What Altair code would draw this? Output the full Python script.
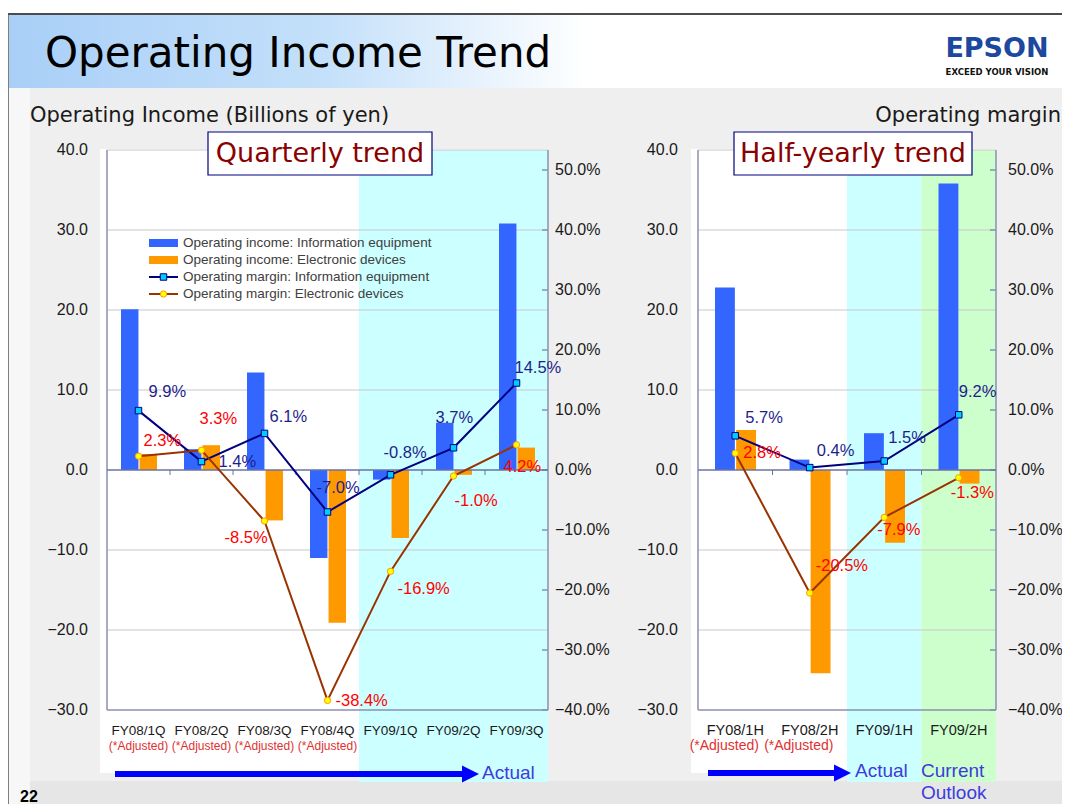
import altair as alt
import pandas as pd

# ---------------- data ----------------
quarters = ["FY08/1Q", "FY08/2Q", "FY08/3Q", "FY08/4Q", "FY09/1Q", "FY09/2Q", "FY09/3Q"]
q_income_info = [20.1, 2.6, 12.2, -11.0, -1.2, 5.9, 30.8]
q_income_elec = [2.0, 3.1, -6.3, -19.1, -8.5, -0.6, 2.8]
q_margin_info = [9.9, 1.4, 6.1, -7.0, -0.8, 3.7, 14.5]
q_margin_elec = [2.3, 3.3, -8.5, -38.4, -16.9, -1.0, 4.2]
q_adjusted = [True, True, True, True, False, False, False]
q_actual = ["FY09/1Q", "FY09/2Q", "FY09/3Q"]

halves = ["FY08/1H", "FY08/2H", "FY09/1H", "FY09/2H"]
h_income_info = [22.8, 1.3, 4.6, 35.8]
h_income_elec = [5.0, -25.4, -9.1, -1.7]
h_margin_info = [5.7, 0.4, 1.5, 9.2]
h_margin_elec = [2.8, -20.5, -7.9, -1.3]
h_adjusted = [True, True, False, False]
h_actual = ["FY09/1H"]
h_outlook = ["FY09/2H"]

income_ticks = [40, 30, 20, 10, 0, -10, -20, -30]
income_tick_labels = ["40.0", "30.0", "20.0", "10.0", "0.0", "\u221210.0", "\u221220.0", "\u221230.0"]
margin_ticks = [50, 40, 30, 20, 10, 0, -10, -20, -30, -40]
margin_tick_labels = ["50.0%", "40.0%", "30.0%", "20.0%", "10.0%", "0.0%",
                      "\u221210.0%", "\u221220.0%", "\u221230.0%", "\u221240.0%"]

series_names = ["Operating income: Information equipment",
                "Operating income: Electronic devices",
                "Operating margin: Information equipment",
                "Operating margin: Electronic devices"]

# label placement (pixel offsets from each point, style only)
q_info_offsets = [(10, -19), (17, 0), (5, -16), (-11, -24), (-7, -22), (-18, -30), (-2, -15)]
q_elec_offsets = [(5, -15), (-2, -31), (-40, 17), (8, 1), (7, 18), (1, 25), (-13, 22)]
h_info_offsets = [(10, -18), (7, -17), (4, -23), (0, -23)]
h_elec_offsets = [(8, 0), (6, -27), (-7, 13), (-8, 15)]

# ---------------- style ----------------
W, H = 1054, 796
SANS = "Liberation Sans, Arial, sans-serif"
DJ = "DejaVu Sans, Verdana, sans-serif"
NAVY = "#000080"
BROWN = "#993300"
BAR_BLUE = "#3366ff"
BAR_ORANGE = "#ff9900"
LBL_BLUE = "#1e1e8c"
LBL_RED = "#ff0000"
AXIS_C = "#8a90b0"
GRID_C = "#c8c8c8"
TXT_C = "#1a1a1a"
ACT_C = "#3c3cdc"
PLOT_TOP, PLOT_BOT, ZERO_Y = 142, 702, 462

one = pd.DataFrame({"k": [0]})


def deco_rect(x, x2, y, y2, **kw):
    return alt.Chart(one).mark_rect(**kw).encode(
        x=alt.value(x), x2=alt.value(x2), y=alt.value(y), y2=alt.value(y2))


def deco_rule(x, x2, y, y2, **kw):
    return alt.Chart(one).mark_rule(**kw).encode(
        x=alt.value(x), x2=alt.value(x2), y=alt.value(y), y2=alt.value(y2))


def deco_text(txt, x, y, **kw):
    return alt.Chart(one).mark_text(text=txt, **kw).encode(x=alt.value(x), y=alt.value(y))


def panel(cats, inc_i, inc_e, mar_i, mar_e, adj, x0, x1, off_range,
          info_offs, elec_offs, inc_lab_x, mar_lab_x, cat_font, adj_font, adj_dx, shades):
    n = len(cats)
    X = alt.Scale(type="band", domain=cats, range=[x0, x1], paddingInner=0, paddingOuter=0)
    YI = alt.Scale(domain=[-30, 40], range=[PLOT_BOT, PLOT_TOP], nice=False, zero=False)
    YM = alt.Scale(domain=[-40, 160 / 3], range=[PLOT_BOT, PLOT_TOP], nice=False, zero=False)
    xenc = alt.X("cat:N", scale=X, axis=None)

    df = pd.DataFrame({
        "cat": cats, "idx": list(range(n)),
        "mi": mar_i, "me": mar_e, "adj": adj,
        "li": [f"{v:.1f}%" for v in mar_i],
        "le": [f"{v:.1f}%" for v in mar_e],
    })
    bars = pd.DataFrame({
        "cat": cats * 2,
        "series": ["info"] * n + ["elec"] * n,
        "value": inc_i + inc_e,
    })
    inc_df = pd.DataFrame({"v": income_ticks, "lab": income_tick_labels})
    mar_df = pd.DataFrame({"v": margin_ticks, "lab": margin_tick_labels})

    L = []
    L.append(deco_rect(x0 - 7, x1, 141, 765, color="white"))
    for col, lst in shades:
        L.append(alt.Chart(pd.DataFrame({"cat": lst})).mark_rect(color=col).encode(
            x=xenc, y=alt.value(142), y2=alt.value(774)))
    # gridlines
    L.append(alt.Chart(inc_df).transform_filter("datum.v != 0 && datum.v != -30").mark_rule(
        color=GRID_C, strokeWidth=1).encode(
        y=alt.Y("v:Q", scale=YI, axis=None), x=alt.value(x0), x2=alt.value(x1)))
    # frame
    L.append(deco_rule(x0, x0, PLOT_TOP, PLOT_BOT, color=AXIS_C, strokeWidth=1.5))
    L.append(deco_rule(x1, x1, PLOT_TOP, PLOT_BOT, color=AXIS_C, strokeWidth=1.5))
    L.append(deco_rule(x0, x1, PLOT_BOT, PLOT_BOT, color=AXIS_C, strokeWidth=1.5))
    L.append(alt.Chart(mar_df).mark_rule(color=AXIS_C, strokeWidth=1.5).encode(
        y=alt.Y("v:Q", scale=YM, axis=None), x=alt.value(x1 - 6), x2=alt.value(x1)))
    # bars
    L.append(alt.Chart(bars).mark_bar().encode(
        x=xenc,
        xOffset=alt.XOffset("series:N", scale=alt.Scale(domain=["info", "elec"], range=off_range,
                                                           paddingInner=0.06, paddingOuter=0)),
        y=alt.Y("value:Q", scale=YI, axis=None),
        y2=alt.datum(0),
        color=alt.Color("series:N", scale=alt.Scale(domain=["info", "elec"],
                                                    range=[BAR_BLUE, BAR_ORANGE]), legend=None),
    ))
    # zero line with category-boundary ticks
    L.append(alt.Chart(pd.DataFrame({"v": [0]})).mark_rule(color="#6a72a4", strokeWidth=1.5).encode(
        y=alt.Y("v:Q", scale=YI, axis=None), x=alt.value(x0), x2=alt.value(x1)))
    L.append(alt.Chart(df).transform_filter("datum.idx > 0").mark_rule(
        color="#6a72a4", strokeWidth=1).encode(
        x=alt.X("cat:N", scale=X, axis=None, bandPosition=0),
        y=alt.value(ZERO_Y), y2=alt.value(ZERO_Y + 5)))
    # margin lines
    L.append(alt.Chart(df).mark_line(color=NAVY, strokeWidth=2).encode(
        x=xenc, y=alt.Y("mi:Q", scale=YM, axis=None), order="idx:Q"))
    L.append(alt.Chart(df).mark_line(color=BROWN, strokeWidth=2).encode(
        x=xenc, y=alt.Y("me:Q", scale=YM, axis=None), order="idx:Q"))
    L.append(alt.Chart(df).mark_square(size=42, color="#00ccff", stroke=NAVY, strokeWidth=1, opacity=1).encode(
        x=xenc, y=alt.Y("mi:Q", scale=YM, axis=None)))
    L.append(alt.Chart(df).mark_circle(size=40, color="#ffff00", stroke="#ff9900", strokeWidth=1, opacity=1).encode(
        x=xenc, y=alt.Y("me:Q", scale=YM, axis=None)))
    # value labels
    for i in range(n):
        dx, dy = info_offs[i]
        L.append(alt.Chart(df).transform_filter(alt.datum.idx == i).mark_text(
            dx=dx, dy=dy, align="left", baseline="middle", font=SANS, fontSize=16.5, color=LBL_BLUE).encode(
            x=xenc, y=alt.Y("mi:Q", scale=YM, axis=None), text="li:N"))
        dx, dy = elec_offs[i]
        L.append(alt.Chart(df).transform_filter(alt.datum.idx == i).mark_text(
            dx=dx, dy=dy, align="left", baseline="middle", font=SANS, fontSize=16.5, color=LBL_RED).encode(
            x=xenc, y=alt.Y("me:Q", scale=YM, axis=None), text="le:N"))
    # tick labels
    L.append(alt.Chart(inc_df).mark_text(align="right", baseline="middle", font=SANS,
                                         fontSize=16, color=TXT_C).encode(
        y=alt.Y("v:Q", scale=YI, axis=None), x=alt.value(inc_lab_x), text="lab:N"))
    L.append(alt.Chart(mar_df).mark_text(align="left", baseline="middle", font=SANS,
                                         fontSize=16, color=TXT_C).encode(
        y=alt.Y("v:Q", scale=YM, axis=None), x=alt.value(mar_lab_x), text="lab:N"))
    # category labels
    L.append(alt.Chart(df).mark_text(baseline="middle", font=SANS, fontSize=cat_font, color=TXT_C).encode(
        x=xenc, y=alt.value(723), text="cat:N"))
    L.append(alt.Chart(df).transform_filter("datum.adj").mark_text(
        text="(*Adjusted)", dx=adj_dx, baseline="middle", font=SANS, fontSize=adj_font, color="#e03030").encode(
        x=xenc, y=alt.value(738)))
    return L


layers = []
# slide background
layers.append(deco_rect(1, W, 7, 80, fill=alt.LinearGradient(
    gradient="linear", x1=0, x2=1, y1=0, y2=0,
    stops=[alt.GradientStop(color="#a9cff7", offset=0),
           alt.GradientStop(color="#c4e0fa", offset=0.3),
           alt.GradientStop(color="#ffffff", offset=0.55),
           alt.GradientStop(color="#ffffff", offset=1)])))
layers.append(deco_rect(1, 22, 80, 796, color="#f7f7f7"))
layers.append(deco_rect(22, W, 80, 773, color="#efefef"))
layers.append(deco_rect(22, W, 773, 796, color="#e6e6e6"))
layers.append(deco_rule(0, W, 6, 6, color="#111111", strokeWidth=1.5))
layers.append(deco_rule(0, 0, 6, 796, color="#555555", strokeWidth=1.5))

layers += panel(quarters, q_income_info, q_income_elec, q_margin_info, q_margin_elec, q_adjusted,
                99, 540, [14, 50], q_info_offsets, q_elec_offsets, 80, 547, 13.5, 12, 0,
                [("#ccffff", q_actual)])
layers += panel(halves, h_income_info, h_income_elec, h_margin_info, h_margin_elec, h_adjusted,
                690, 988, [17, 58], h_info_offsets, h_elec_offsets, 670, 1000, 14.5, 14, -11,
                [("#ccffff", h_actual), ("#ccffcc", h_outlook)])

# legend
leg_y = [235, 252, 269, 286]
layers.append(deco_rule(141, 170, leg_y[0], leg_y[0], color=BAR_BLUE, strokeWidth=8))
layers.append(deco_rule(141, 170, leg_y[1], leg_y[1], color=BAR_ORANGE, strokeWidth=8))
layers.append(deco_rule(141, 170, leg_y[2], leg_y[2], color=NAVY, strokeWidth=2))
layers.append(deco_rule(141, 170, leg_y[3], leg_y[3], color=BROWN, strokeWidth=2))
layers.append(alt.Chart(one).mark_square(size=42, color="#00ccff", stroke=NAVY, strokeWidth=1, opacity=1).encode(
    x=alt.value(155.5), y=alt.value(leg_y[2])))
layers.append(alt.Chart(one).mark_circle(size=40, color="#ffff00", stroke="#ff9900", strokeWidth=1, opacity=1).encode(
    x=alt.value(155.5), y=alt.value(leg_y[3])))
for name, yy in zip(series_names, leg_y):
    layers.append(deco_text(name, 175, yy, align="left", baseline="middle", font=SANS,
                            fontSize=13.5, color="#404040"))

# panel title boxes
layers.append(deco_rect(200, 424, 124, 167, fill="white", stroke=NAVY, strokeWidth=1.2))
layers.append(deco_text("Quarterly trend", 312, 146, align="center", baseline="middle",
                        font=DJ, fontSize=27, color="#8b0000"))
layers.append(deco_rect(726, 964, 124, 167, fill="white", stroke=NAVY, strokeWidth=1.2))
layers.append(deco_text("Half-yearly trend", 845, 146, align="center", baseline="middle",
                        font=DJ, fontSize=27, color="#8b0000"))

# arrows and period notes
ARROW = "M-1,-1L1,0L-1,1Z"
layers.append(deco_rule(107, 455, 766, 766, color="#0000ff", strokeWidth=6))
layers.append(alt.Chart(one).mark_point(shape=ARROW, filled=True, size=289, color="#0000ff", opacity=1).encode(
    x=alt.value(462.5), y=alt.value(766)))
layers.append(deco_text("Actual", 474, 765, align="left", baseline="middle", font=SANS,
                        fontSize=19, color=ACT_C))
layers.append(deco_rule(700, 827, 765, 765, color="#0000ff", strokeWidth=6))
layers.append(alt.Chart(one).mark_point(shape=ARROW, filled=True, size=289, color="#0000ff", opacity=1).encode(
    x=alt.value(834.5), y=alt.value(765)))
layers.append(deco_text("Actual", 847, 763, align="left", baseline="middle", font=SANS,
                        fontSize=19, color=ACT_C))
layers.append(deco_text("Current", 913, 763, align="left", baseline="middle", font=SANS,
                        fontSize=19, color=ACT_C))
layers.append(deco_text("Outlook", 913, 785, align="left", baseline="middle", font=SANS,
                        fontSize=19, color=ACT_C))

# headings
layers.append(deco_text("Operating Income Trend", 37, 59, align="left", baseline="alphabetic",
                        font=DJ, fontSize=42, color="#000000"))
layers.append(deco_text("Operating Income (Billions of yen)", 22, 108, align="left", baseline="middle",
                        font=DJ, fontSize=21, color=TXT_C))
layers.append(deco_text("Operating margin", 1053, 108, align="right", baseline="middle",
                        font=DJ, fontSize=21, color=TXT_C))
layers.append(deco_text("EPSON", 989, 49, align="center", baseline="alphabetic",
                        font=DJ, fontSize=27, fontWeight="bold", color="#1c48a0"))
layers.append(deco_text("EXCEED YOUR VISION", 989, 67, align="center", baseline="alphabetic",
                        font=DJ, fontSize=8.5, fontWeight="bold", color="#111111"))
layers.append(deco_text("22", 12, 794, align="left", baseline="alphabetic",
                        font=SANS, fontSize=16, fontWeight="bold", color="#000000"))

chart = alt.layer(*layers).properties(
    width=W, height=H, padding=0, background="white",
    autosize=alt.AutoSizeParams(type="none"),
).resolve_scale(
    x="independent", y="independent", xOffset="independent", color="independent"
).configure_view(strokeWidth=0)

chart.save("out.html", embed_options={"renderer": "svg", "actions": False})
